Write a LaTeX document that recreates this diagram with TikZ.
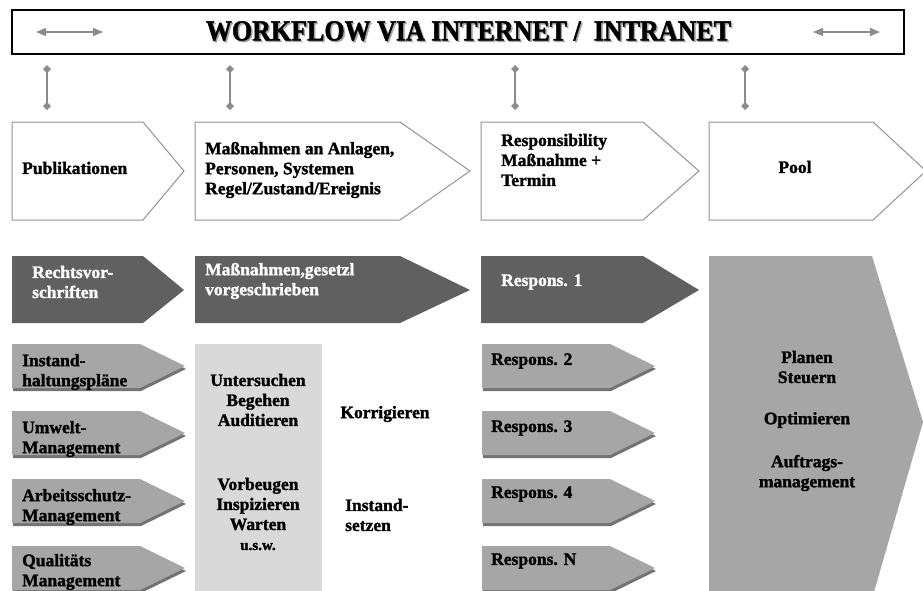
\documentclass[tikz,border=0pt]{standalone}
\usepackage{fontspec}
\setmainfont{Liberation Serif}[FakeBold = 1.6]
\usepackage{xcolor}
\usetikzlibrary{arrows.meta, shadows, positioning}
\definecolor{darkbox}{HTML}{606060}
\definecolor{midbox}{HTML}{A6A6A6}
\definecolor{lightbox}{HTML}{D9D9D9}
\definecolor{linkgray}{HTML}{8C8C8C}
\tikzset{
	lbl/.style = {font = \bfseries\fontsize{17.5}{20}\selectfont, inner sep = 0pt, align = left},
	lblc/.style = {lbl, align = center},
	whitebox/.style = {draw = gray!85, line width = 1pt, fill = white},
	darkarrow/.style = {fill = darkbox},
	midarrow/.style = {fill = midbox, drop shadow = {shadow xshift = 1pt, shadow yshift = -3pt, fill = black!55, opacity = 1}},
	link/.style = {draw = linkgray, line width = 1.4pt, {Diamond[length = 8pt, width = 8pt]}-{Diamond[length = 8pt, width = 8pt]}},
	swap/.style = {draw = linkgray, line width = 1.4pt, {Triangle[length = 10pt, width = 8pt]}-{Triangle[length = 10pt, width = 8pt]}}
}

\begin{document}
\begin{tikzpicture}[x = 1pt, y = -1pt]
	\useasboundingbox (0, 0) rectangle (923, 590);

	% kopfzeile
	\node [draw, line width = 1.6pt, minimum width = 892, minimum height = 44, inner sep = 0pt] (title) at (458, 32) {};
	\node [font = \bfseries\fontsize{26}{28}\selectfont, text = gray!70, yscale = 1.12] at (470, 32.5) {WORKFLOW VIA INTERNET / \ INTRANET};
	\node [font = \bfseries\fontsize{26}{28}\selectfont, yscale = 1.12] (titletext) at (468.5, 31) {WORKFLOW VIA INTERNET / \ INTRANET};
	\coordinate (la) at (36, 32);
	\coordinate (lb) at (103, 32);
	\coordinate (ra) at (813, 32);
	\coordinate (rb) at (880, 32);
	\draw [swap] (la) -- (lb);
	\draw [swap] (ra) -- (rb);

	\foreach \x [count = \i] in {47, 230, 515, 745} {
		\coordinate (up\i) at (\x, 65);
		\coordinate (down\i) at (\x, 110);
		\draw [link] (up\i) -- (down\i);
	}

	% obere reihe
	\draw [whitebox] (12, 122) -- (143, 122) -- (184, 171) -- (143, 220) -- (12, 220) -- cycle;
	\draw [whitebox] (195, 122) -- (400, 122) -- (470, 171) -- (400, 220) -- (195, 220) -- cycle;
	\draw [whitebox] (481, 122) -- (643, 122) -- (699, 171) -- (643, 220) -- (481, 220) -- cycle;
	\draw [whitebox] (709, 122) -- (873, 122) -- (926, 171) -- (873, 220) -- (709, 220) -- cycle;
	\node [lbl, anchor = west] (publ) at (22, 168) {Publikationen};
	\node [lbl, anchor = west] (massn) at (205, 170) {Maßnahmen an Anlagen,\\Personen, Systemen\\Regel/Zustand/Ereignis};
	\node [lbl, anchor = west] (resp) at (501, 160) {Responsibility\\Maßnahme +\\Termin};
	\node [lbl] (pool) at (795, 167) {Pool};

	% dunkle reihe
	\fill [darkarrow] (12, 256) -- (143, 256) -- (184, 290) -- (143, 323) -- (12, 323) -- cycle;
	\fill [darkarrow] (195, 256) -- (400, 256) -- (470, 290) -- (400, 323) -- (195, 323) -- cycle;
	\fill [darkarrow] (481, 256) -- (643, 256) -- (699, 290) -- (643, 323) -- (481, 323) -- cycle;
	\node [lbl, text = white, anchor = west] (recht) at (32, 282) {Rechtsvor-\\schriften};
	\node [lbl, text = white, anchor = west] (gesetzl) at (205, 281) {Maßnahmen,gesetzl\\vorgeschrieben};
	\node [lbl, text = white, anchor = west] (resp1) at (501, 282) {Respons. 1};

	% pool
	\fill [fill = midbox] (709, 256) -- (872, 256) -- (923, 422) -- (874, 592) -- (709, 592) -- cycle;
	\node [lblc] (planen) at (807, 367) {Planen\\Steuern};
	\node [lblc] (optim) at (807, 420) {Optimieren};
	\node [lblc] (auftrag) at (807, 473) {Auftrags-\\management};

	% spalte
	\fill [lightbox] (195, 344) rectangle (322, 592);
	\node [lblc] (unters) at (258, 400) {Untersuchen\\Begehen\\Auditieren};
	\node [lblc] (vorb) at (258, 514) {Vorbeugen\\Inspizieren\\Warten\\{\fontsize{15}{20}\selectfont u.s.w.}};
	\node [lbl] (korr) at (385, 414) {Korrigieren};
	\node [lbl, anchor = west] (setzen) at (345, 515) {Instand-\\setzen};

	% graue pfeile
	\foreach \y [count = \i] in {344, 411, 479, 546} {
		\fill [midarrow] (12, \y) -- (140, \y) -- (185, \y + 22) -- (140, \y + 44) -- (12, \y + 44) -- cycle;
		\fill [midarrow] (482, \y) -- (610, \y) -- (655, \y + 22) -- (610, \y + 44) -- (482, \y + 44) -- cycle;
	}
	\node [lbl, anchor = west] (plaene) at (22, 372) {Instand-\\haltungspläne};
	\node [lbl, anchor = west] (umwelt) at (22, 439) {Umwelt-\\Management};
	\node [lbl, anchor = west] (arbeit) at (22, 507) {Arbeitsschutz-\\Management};
	\node [lbl, anchor = west] (quali) at (22, 572) {Qualitäts\\Management};
	\node [lbl, anchor = west] (resp2) at (491, 361) {Respons. 2};
	\node [lbl, anchor = west] (resp3) at (491, 428) {Respons. 3};
	\node [lbl, anchor = west] (resp4) at (491, 494) {Respons. 4};
	\node [lbl, anchor = west] (respn) at (491, 561) {Respons. N};
\end{tikzpicture}
\end{document}
